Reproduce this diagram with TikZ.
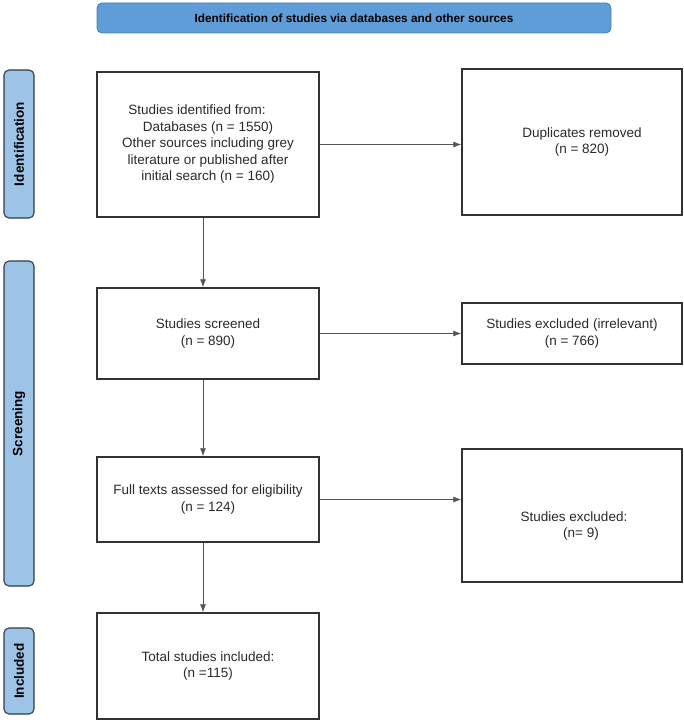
\documentclass[tikz,border=0pt]{standalone}
\usepackage{fontspec}
\setmainfont{Liberation Sans}
\usetikzlibrary{arrows.meta}
\definecolor{bannerblue}{HTML}{5F9DD8}
\definecolor{bannerline}{HTML}{4A7DB0}
\definecolor{sideblue}{HTML}{9DC3E6}
\definecolor{sideline}{HTML}{2E3B4A}
\definecolor{boxline}{HTML}{333333}
\definecolor{txt}{HTML}{2A2A2A}
\definecolor{arrowgray}{HTML}{555555}
\tikzset{
  flowbox/.style={draw=boxline, line width=1.4pt, fill=white, align=center,
    text=txt, font=\fontsize{13.5}{16.5}\selectfont, inner sep=2pt},
  sidelabel/.style={draw=sideline, line width=1.1pt, fill=sideblue,
    rounded corners=5pt, minimum height=30pt, font=\bfseries\fontsize{13.5}{16}\selectfont,
    text=black},
  banner/.style={draw=bannerline, line width=0.8pt, fill=bannerblue,
    rounded corners=5pt, font=\bfseries\fontsize{11.8}{14}\selectfont, text=black},
  flowarrow/.style={draw=arrowgray, line width=0.8pt, -{Latex[length=8pt,width=6pt]}}
}
\begin{document}
\begin{tikzpicture}[x=1pt,y=-1pt]
\useasboundingbox (0,0) rectangle (684,725);

\node[banner, minimum width=514pt, minimum height=30pt] (ban) at (354,18)
  {Identification of studies via databases and other sources};

\node[sidelabel, minimum width=148pt, rotate=90] (sid) at (19,144) {Identification};
\node[sidelabel, minimum width=325pt, rotate=90] (sscr) at (19,423.5) {Screening};
\node[sidelabel, minimum width=86pt, rotate=90] (sinc) at (19,671) {Included};

\node[flowbox, minimum width=222pt, minimum height=145pt] (idf) at (208,144.5)
  {Studies identified from:\hspace*{22pt}\\
   Databases (n = 1550)\\
   Other sources including grey\\
   literature or published after\\
   initial search (n = 160)};
\node[flowbox, minimum width=220pt, minimum height=146pt] (dup) at (572,142)
  {\hspace*{20pt}Duplicates removed\\\hspace*{20pt}(n = 820)};

\node[flowbox, minimum width=222pt, minimum height=91pt] (scr) at (208,333.5)
  {Studies screened\\(n = 890)};
\node[flowbox, minimum width=220pt, minimum height=61pt] (exi) at (572,333.5)
  {Studies excluded (irrelevant)\\(n = 766)};

\node[flowbox, minimum width=222pt, minimum height=85pt] (ful) at (208,499.5)
  {Full texts assessed for eligibility\\(n = 124)};
\node[flowbox, minimum width=220pt, minimum height=133pt] (exc) at (572,515.5)
  {};
\node[align=center, text=txt, font=\fontsize{13.5}{16.5}\selectfont] (exct) at (574,526)
  {Studies excluded:\\\hspace*{14pt}(n= 9)};

\node[flowbox, minimum width=222pt, minimum height=106pt] (tot) at (208,666)
  {Total studies included:\\(n =115)};

\draw[flowarrow] (idf.east) -- (idf.east -| dup.west);
\draw[flowarrow] (scr.east) -- (scr.east -| exi.west);
\draw[flowarrow] (ful.east) -- (ful.east -| exc.west);

\draw[flowarrow] ([xshift=-5pt]idf.south) -- ([xshift=-5pt]idf.south |- scr.north);
\draw[flowarrow] ([xshift=-5pt]scr.south) -- ([xshift=-5pt]scr.south |- ful.north);
\draw[flowarrow] ([xshift=-5pt]ful.south) -- ([xshift=-5pt]ful.south |- tot.north);
\end{tikzpicture}
\end{document}
